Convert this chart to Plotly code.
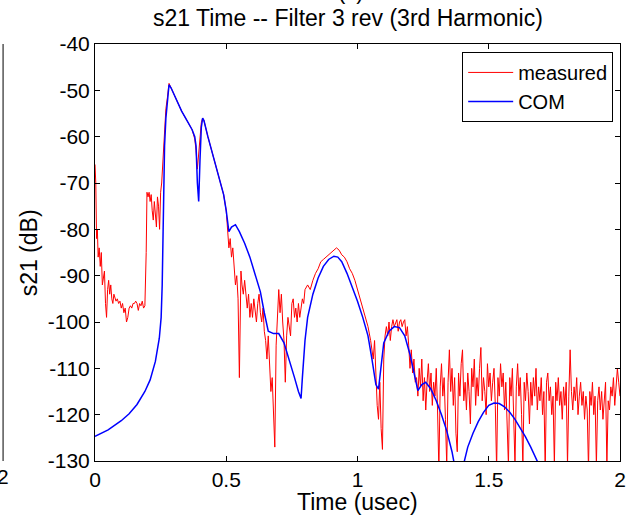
import plotly.graph_objects as go

# ---------------- data ----------------
meas_t = [0, 0.003, 0.006, 0.009, 0.012, 0.016, 0.02, 0.024, 0.028, 0.032, 0.036, 0.04, 0.044, 0.048, 0.052,
          0.056, 0.06, 0.064, 0.068, 0.072, 0.076, 0.08, 0.085, 0.09, 0.095, 0.10, 0.105, 0.11, 0.115, 0.12,
          0.125, 0.13, 0.135, 0.14, 0.145, 0.15, 0.155, 0.16, 0.165, 0.17, 0.175, 0.18, 0.185, 0.19, 0.195,
          0.198, 0.202, 0.206, 0.21, 0.214, 0.218, 0.222, 0.226, 0.23, 0.234, 0.238, 0.242, 0.246, 0.25,
          0.254, 0.258, 0.262, 0.266, 0.27, 0.276, 0.282, 0.29, 0.31, 0.33, 0.35, 0.37, 0.38, 0.385, 0.39,
          0.395, 0.40, 0.405, 0.41, 0.415, 0.43, 0.45, 0.47, 0.49, 0.50, 0.505, 0.51, 0.515, 0.52, 0.525,
          0.53, 0.535, 0.54, 0.545, 0.55, 0.553, 0.556, 0.56, 0.565, 0.57, 0.575, 0.58, 0.585, 0.59, 0.595,
          0.60, 0.605, 0.61, 0.615, 0.62, 0.625, 0.63, 0.635, 0.64, 0.645, 0.65, 0.655, 0.66, 0.665, 0.67,
          0.675, 0.68, 0.685, 0.69, 0.695, 0.70, 0.705, 0.71, 0.715, 0.72, 0.725, 0.73, 0.735, 0.74, 0.745,
          0.75, 0.755, 0.76, 0.765, 0.77, 0.775, 0.78, 0.785, 0.79, 0.795, 0.80, 0.81, 0.82, 0.83, 0.84,
          0.85, 0.86, 0.87, 0.88, 0.89, 0.90, 0.91, 0.92, 0.93, 0.94, 0.95, 0.96, 0.97, 0.98, 0.99, 1.00,
          1.01, 1.02, 1.03, 1.04, 1.05, 1.06, 1.065, 1.07, 1.075, 1.08, 1.085, 1.09, 1.095, 1.10, 1.105,
          1.11, 1.115, 1.12, 1.125, 1.13, 1.135, 1.14, 1.145, 1.15, 1.155, 1.16, 1.165, 1.17, 1.175, 1.18,
          1.185, 1.19, 1.195, 1.20, 1.205, 1.21, 1.215, 1.22,
          1.225, 1.230, 1.235, 1.240, 1.245, 1.250, 1.255, 1.260, 1.265, 1.270, 1.275, 1.280, 1.285, 1.290,
          1.295, 1.300, 1.305, 1.310, 1.315, 1.320, 1.325, 1.330, 1.335, 1.340, 1.345, 1.350, 1.355, 1.360,
          1.365, 1.370, 1.375, 1.380, 1.385, 1.390, 1.395, 1.400, 1.405, 1.410, 1.415, 1.420, 1.425, 1.430,
          1.435, 1.440, 1.445, 1.450, 1.455, 1.460, 1.465, 1.470, 1.475, 1.480, 1.485, 1.490, 1.495, 1.500,
          1.505, 1.510, 1.515, 1.520, 1.525, 1.530, 1.535, 1.540, 1.545, 1.550, 1.555, 1.560, 1.565, 1.570,
          1.575, 1.580, 1.585, 1.590, 1.595, 1.600, 1.605, 1.610, 1.615, 1.620, 1.625, 1.630, 1.635, 1.640,
          1.645, 1.650, 1.655, 1.660, 1.665, 1.670, 1.675, 1.680, 1.685, 1.690, 1.695, 1.700, 1.705, 1.710,
          1.715, 1.720, 1.725, 1.730, 1.735, 1.740, 1.745, 1.750, 1.755, 1.760, 1.765, 1.770, 1.775, 1.780,
          1.785, 1.790, 1.795, 1.800, 1.805, 1.810, 1.815, 1.820, 1.825, 1.830, 1.835, 1.840, 1.845, 1.850,
          1.855, 1.860, 1.865, 1.870, 1.875, 1.880, 1.885, 1.890, 1.895, 1.900, 1.905, 1.910, 1.915, 1.920,
          1.925, 1.930, 1.935, 1.940, 1.945, 1.950, 1.955, 1.960, 1.965, 1.970, 1.975, 1.980, 1.985, 1.990,
          1.995, 2.000]
meas_db = [-66, -70, -82, -80, -86, -84, -88, -85, -92, -90, -89, -96, -99, -93, -91,
           -94, -92, -95, -96, -94, -95, -95.5, -95, -96, -95.5, -97, -96, -98, -97, -100,
           -99, -97, -96.5, -97, -96, -96, -95.5, -96, -97.5, -96, -96.5, -95.5, -97, -96.5, -85,
           -72, -73, -72, -74, -72.5, -76, -78, -74, -77, -79.5, -73, -75, -80, -72,
           -70, -66, -60, -56, -54, -51.5, -48.5, -49.5, -52, -54.5, -56.5, -58.5, -60.5, -63, -67,
           -63, -60, -57, -56, -56.5, -60, -64, -68, -72.5, -76, -80, -84, -82, -86, -84,
           -88, -92, -90, -95, -112, -100, -89, -92, -94, -91, -95, -97, -94, -99, -96,
           -99, -95, -97, -100, -96, -94, -98, -100, -97, -102, -104, -108, -103, -110, -115,
           -112, -118, -127, -105, -97, -93, -98, -94, -100, -104, -113, -103, -99, -101, -103,
           -96, -95, -99, -97, -100, -96, -99, -97, -95, -96, -93, -92, -93, -91, -89.5,
           -88.5, -87, -86.5, -86, -85.5, -85, -84.5, -84, -84.5, -85.5, -86, -87, -88.5, -89.5, -91, -93,
           -94.5, -97, -99, -101, -104, -108, -104, -112, -118, -121, -113, -123, -127.5, -108, -103,
           -101, -103, -100, -104, -101, -99.5, -101, -100, -99.5, -102, -100, -99.5, -101, -100, -99.5,
           -103, -101, -105, -110, -106, -111, -108, -113,
           -112, -116, -110, -114, -108, -117, -112, -119, -113, -109, -115, -111, -118, -113,
           -116, -110, -119, -132, -114, -109, -116, -112, -121, -131, -113, -106, -115, -110,
           -118, -112, -124, -128, -111, -116, -109, -106, -117, -113, -119, -111, -115, -122,
           -110, -114, -108, -118, -112, -116, -110, -105.5, -117, -112, -115, -120, -109, -114,
           -111, -117, -113, -110, -118, -132, -112, -116, -109, -114, -111, -119, -113, -121,
           -131, -112, -116, -110, -118, -131, -114, -109, -116, -112, -120, -131, -113, -117,
           -111, -115, -122, -113, -118, -112, -116, -110, -119, -114, -117, -112, -120, -115,
           -132, -113, -111, -117, -114, -120, -116, -131, -113, -117, -112, -118, -115, -121,
           -114, -118, -113, -131, -116, -106, -115, -119, -114, -117, -112, -120, -116, -113,
           -118, -115, -121, -116, -119, -132, -115, -118, -113, -120, -116, -131, -117, -114,
           -119, -115, -121, -117, -113, -131, -117, -119, -114, -116, -112, -118, -114, -110,
           -113, -116]

com_t = [0, 0.05, 0.10, 0.13, 0.16, 0.19, 0.21, 0.23, 0.245, 0.252, 0.256, 0.26, 0.265, 0.27, 0.276,
         0.282, 0.29, 0.31, 0.33, 0.35, 0.37, 0.38, 0.385, 0.39, 0.395, 0.40, 0.405, 0.41, 0.415, 0.43,
         0.45, 0.47, 0.49, 0.50, 0.51, 0.52, 0.535, 0.55, 0.57, 0.59, 0.61, 0.63, 0.645, 0.66, 0.68,
         0.70, 0.72, 0.74, 0.76, 0.775, 0.785, 0.79, 0.80, 0.81, 0.83, 0.85, 0.87, 0.89, 0.91, 0.925,
         0.94, 0.96, 0.98, 1.00, 1.02, 1.04, 1.055, 1.07, 1.08, 1.09, 1.10, 1.12, 1.14, 1.16, 1.18,
         1.20, 1.215, 1.23, 1.245, 1.26, 1.28, 1.30, 1.32, 1.34, 1.36, 1.37, 1.39, 1.405, 1.42, 1.44,
         1.46, 1.48, 1.50, 1.52, 1.54, 1.56, 1.58, 1.60, 1.62, 1.64, 1.66, 1.68, 1.70, 1.75, 1.85, 2.0]
com_db = [-124.7, -123.3, -121.3, -119.8, -117.8, -115.0, -112.5, -108.5, -103.5, -99, -92, -80, -62, -56, -52,
          -48.8, -49.5, -52, -54.5, -56.5, -58.5, -60, -62, -70, -74, -65, -58, -56, -56.5, -60,
          -64, -68, -72.5, -76, -80.5, -79.5, -79, -80.5, -83, -86, -89.5, -93.5, -98, -102, -102.5,
          -102.5, -104.5, -108, -112, -115, -116.5, -112, -104, -99, -94, -90.5, -88, -86.5, -85.8, -86,
          -87, -89.5, -92.5, -95.5, -99, -103, -108, -113.5, -114.5, -109, -104.5, -102, -101, -101.2, -103,
          -107, -111, -114.8, -113.5, -113, -114.5, -117, -120, -123.5, -128, -131, -134, -130.5, -127, -124,
          -121.5, -119.5, -118, -117.5, -117.6, -118.3, -119.5, -121, -122.8, -124.8, -127, -129.5, -132, -138, -140, -142]

x_ticks = [0, 0.5, 1, 1.5, 2]
x_tick_text = ["0", "0.5", "1", "1.5", "2"]
y_ticks = [-130, -120, -110, -100, -90, -80, -70, -60, -50, -40]
y_tick_text = ["-130", "-120", "-110", "-100", "-90", "-80", "-70", "-60", "-50", "-40"]

FONT = "Liberation Sans, Arial, sans-serif"

fig = go.Figure()
fig.add_trace(go.Scatter(x=meas_t, y=meas_db, mode="lines", name="measured",
                         line=dict(color="#ff0000", width=1)))
fig.add_trace(go.Scatter(x=com_t, y=com_db, mode="lines", name="COM",
                         line=dict(color="#0000ff", width=1.5)))

axis_common = dict(showline=True, linecolor="black", linewidth=1, mirror="ticks",
                   ticks="inside", ticklen=5, tickcolor="black", tickwidth=1,
                   showgrid=False, zeroline=False,
                   tickfont=dict(family=FONT, size=21, color="black"))

fig.update_xaxes(range=[0, 2], tickvals=x_ticks, ticktext=x_tick_text, **axis_common)
fig.update_yaxes(range=[-130, -40], tickvals=y_ticks, ticktext=y_tick_text, **axis_common)

fig.update_layout(
    width=637, height=518,
    margin=dict(l=95, r=11, t=44, b=57),
    paper_bgcolor="white", plot_bgcolor="white",
    font=dict(family=FONT, color="black"),
    showlegend=True,
    legend=dict(x=0.987, y=0.981, xanchor="right", yanchor="top",
                bgcolor="white", bordercolor="black", borderwidth=1,
                font=dict(family=FONT, size=20, color="black"),
                itemwidth=45, tracegroupgap=0),
    annotations=[
        dict(text="s21 Time -- Filter 3 rev (3rd Harmonic)", xref="paper", yref="paper",
             x=0.482, y=1.062, xanchor="center", yanchor="middle", showarrow=False,
             font=dict(family=FONT, size=23, color="black")),
        dict(text="(c)", xref="paper", yref="paper",
             x=0.488, y=1.127, xanchor="center", yanchor="middle", showarrow=False,
             font=dict(family=FONT, size=22, color="black")),
        dict(text="Time (usec)", xref="paper", yref="paper",
             x=0.5, y=-0.098, xanchor="center", yanchor="middle", showarrow=False,
             font=dict(family=FONT, size=23, color="black")),
        dict(text="s21 (dB)", xref="paper", yref="paper", textangle=-90,
             x=-0.126, y=0.5, xanchor="center", yanchor="middle", showarrow=False,
             font=dict(family=FONT, size=23, color="black")),
        dict(text="2", xref="paper", yref="paper",
             x=-0.1751, y=-0.036, xanchor="center", yanchor="middle", showarrow=False,
             font=dict(family=FONT, size=21, color="black")),
    ],
    shapes=[
        dict(type="line", xref="paper", yref="paper", x0=-0.1751, x1=-0.1751, y0=0, y1=1,
             line=dict(color="black", width=1)),
    ],
)

fig.write_html("out.html", config={"displayModeBar": False},
               post_script="document.body.style.margin='0px';document.body.style.overflow='hidden';")
